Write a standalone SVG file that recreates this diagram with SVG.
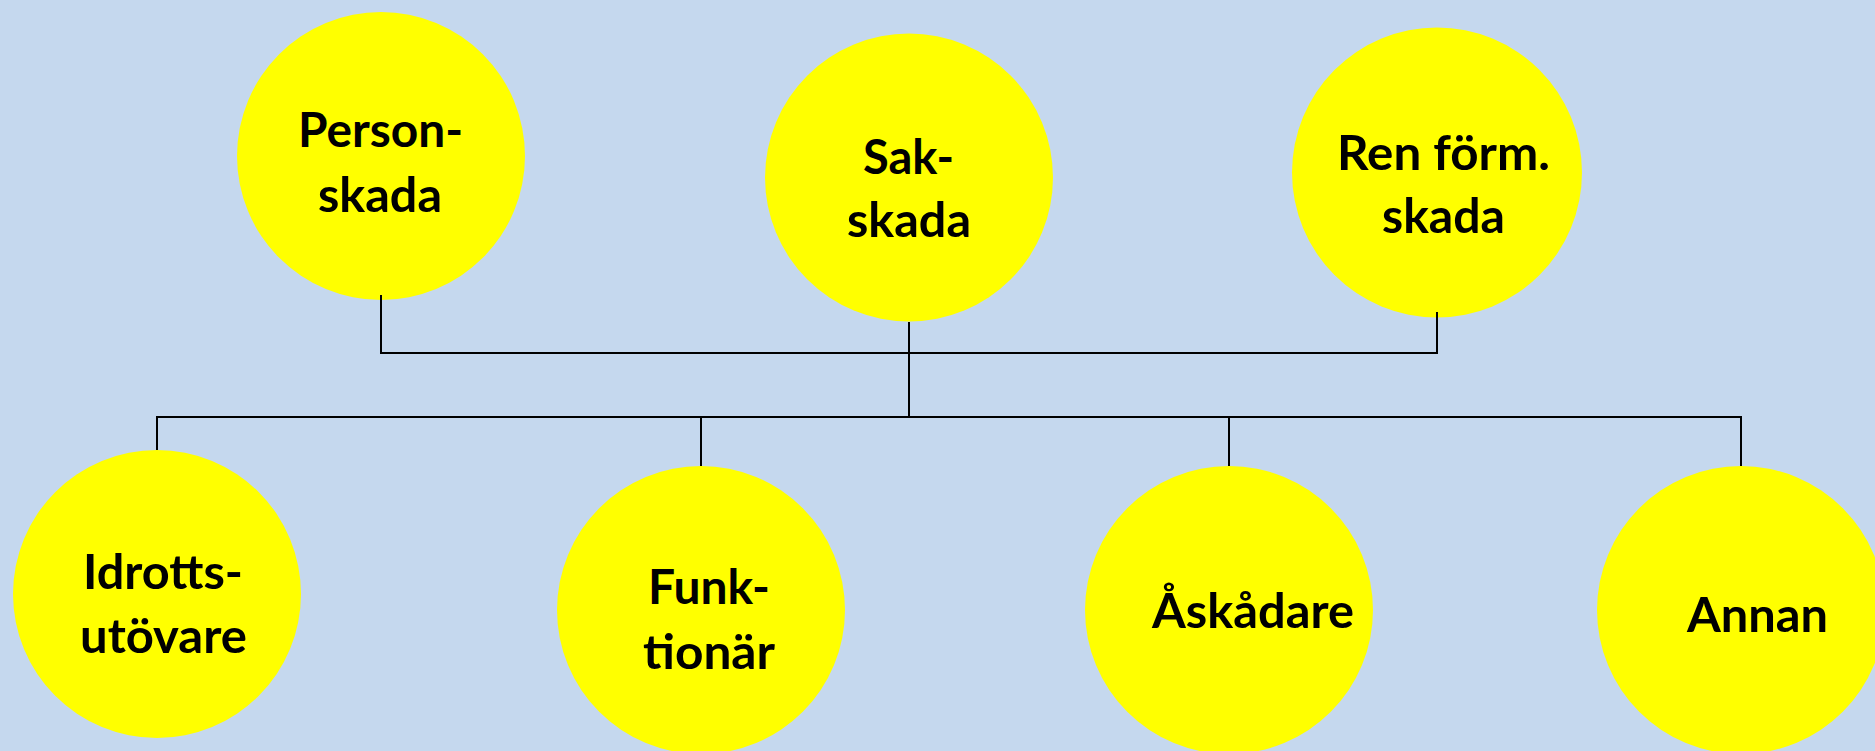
<svg xmlns="http://www.w3.org/2000/svg" width="1875" height="751" viewBox="0 0 1875 751">
<style>
.bg{fill:#C5D8EE}
.node circle{fill:#FFFF00;stroke:none}
.node text{font-family:Lato,"Liberation Sans",sans-serif;font-weight:bold;font-size:48px;fill:#000;text-anchor:middle}
#connectors path{fill:none;stroke:#000;stroke-width:2}
</style>
<rect class="bg" x="0" y="0" width="1875" height="751"/>
<g id="n-person" class="node">
<circle cx="381" cy="156" r="144"/>
<text x="380.5" y="147" textLength="165" lengthAdjust="spacingAndGlyphs">Person-</text>
<text x="380" y="212" textLength="124" lengthAdjust="spacingAndGlyphs">skada</text>
</g>
<g id="n-sak" class="node">
<circle cx="909" cy="177.5" r="144"/>
<text x="908.5" y="174" textLength="91" lengthAdjust="spacingAndGlyphs">Sak-</text>
<text x="909" y="237" textLength="124" lengthAdjust="spacingAndGlyphs">skada</text>
</g>
<g id="n-ren" class="node">
<circle cx="1437" cy="172.5" r="145"/>
<text x="1443.5" y="170" textLength="213" lengthAdjust="spacingAndGlyphs">Ren förm.</text>
<text x="1443.5" y="233" textLength="123" lengthAdjust="spacingAndGlyphs">skada</text>
</g>
<g id="n-idrotts" class="node">
<circle cx="157" cy="594" r="144"/>
<text x="163" y="589" textLength="160" lengthAdjust="spacingAndGlyphs">Idrotts-</text>
<text x="163.5" y="653" textLength="167" lengthAdjust="spacingAndGlyphs">utövare</text>
</g>
<g id="n-funk" class="node">
<circle cx="701" cy="610" r="144"/>
<text x="709" y="604" textLength="122" lengthAdjust="spacingAndGlyphs">Funk-</text>
<text x="709" y="669" textLength="132" lengthAdjust="spacingAndGlyphs">tionär</text>
</g>
<g id="n-askadare" class="node">
<circle cx="1229" cy="610" r="144"/>
<text x="1253" y="628" textLength="202" lengthAdjust="spacingAndGlyphs">Åskådare</text>
</g>
<g id="n-annan" class="node">
<circle cx="1741" cy="610" r="144"/>
<text x="1757.5" y="632" textLength="141" lengthAdjust="spacingAndGlyphs">Annan</text>
</g>
<g id="connectors">
<path d="M381 295 V353 H1437 V312"/>
<path d="M909 322 V417"/>
<path d="M157 450 V417 H1741 V466"/>
<path d="M701 417 V466"/>
<path d="M1229 417 V466"/>
</g>
</svg>
